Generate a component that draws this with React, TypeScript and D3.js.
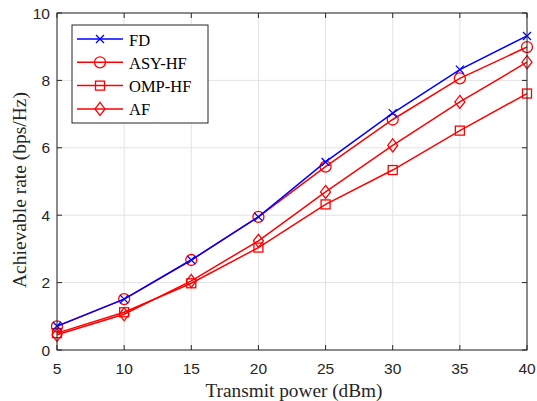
import React from "react";
import * as d3 from "d3";

const powers = [5, 10, 15, 20, 25, 30, 35, 40];
const fd = [0.71, 1.51, 2.67, 3.95, 5.58, 7.03, 8.32, 9.32];
const asyHf = [0.70, 1.51, 2.67, 3.95, 5.44, 6.84, 8.06, 8.99];
const ompHf = [0.50, 1.12, 1.98, 3.04, 4.32, 5.34, 6.51, 7.61];
const af = [0.45, 1.06, 2.05, 3.24, 4.69, 6.07, 7.36, 8.54];
const xTicks = [5, 10, 15, 20, 25, 30, 35, 40];
const yTicks = [0, 2, 4, 6, 8, 10];

const series = [
  { name: "FD", values: fd, color: "#0000ff", marker: "x" },
  { name: "ASY-HF", values: asyHf, color: "#ff0000", marker: "o" },
  { name: "OMP-HF", values: ompHf, color: "#ff0000", marker: "s" },
  { name: "AF", values: af, color: "#ff0000", marker: "d" },
];

function Marker({ type, x, y, color }: { type: string; x: number; y: number; color: string }) {
  if (type === "x") {
    const r = 4;
    return (
      <path d={`M${x - r},${y - r}L${x + r},${y + r}M${x - r},${y + r}L${x + r},${y - r}`} stroke={color} strokeWidth={1.3} fill="none" />
    );
  }
  if (type === "o") return <circle cx={x} cy={y} r={5.5} stroke={color} strokeWidth={1.3} fill="none" />;
  if (type === "s") return <rect x={x - 4.5} y={y - 4.5} width={9} height={9} stroke={color} strokeWidth={1.3} fill="none" />;
  const r = 6.5, w = 5;
  return <path d={`M${x},${y - r}L${x + w},${y}L${x},${y + r}L${x - w},${y}Z`} stroke={color} strokeWidth={1.3} fill="none" />;
}

export default function App() {
  const W = 537, H = 401;
  const left = 57, right = 527, top = 13, bottom = 350;
  const x = d3.scaleLinear().domain([5, 40]).range([left, right]);
  const y = d3.scaleLinear().domain([0, 10]).range([bottom, top]);
  const line = d3.line<number>().x((_, i) => x(powers[i])).y((d) => y(d));
  const serif = "'Liberation Serif', 'Times New Roman', serif";
  const sans = "'Liberation Sans', Arial, sans-serif";
  const drawOrder = [series[1], series[2], series[3], series[0]];
  return (
    <svg width={W} height={H} style={{ position: "absolute", left: 0, top: 0, background: "#fff" }}>
      <rect x={0} y={0} width={W} height={H} fill="#fff" />
      {xTicks.map((t) => (
        <line key={"gx" + t} x1={x(t)} x2={x(t)} y1={top} y2={bottom} stroke="#e3e3e3" strokeWidth={1} />
      ))}
      {yTicks.map((t) => (
        <line key={"gy" + t} x1={left} x2={right} y1={y(t)} y2={y(t)} stroke="#e3e3e3" strokeWidth={1} />
      ))}
      {drawOrder.map((s) => (
        <g key={s.name}>
          <path d={line(s.values) || ""} stroke={s.color} strokeWidth={1.5} fill="none" />
          {s.values.map((v, i) => (
            <Marker key={i} type={s.marker} x={x(powers[i])} y={y(v)} color={s.color} />
          ))}
        </g>
      ))}
      <rect x={left} y={top} width={right - left} height={bottom - top} fill="none" stroke="#262626" strokeWidth={1} />
      {xTicks.map((t) => (
        <g key={"tx" + t}>
          <line x1={x(t)} x2={x(t)} y1={bottom} y2={bottom - 5} stroke="#262626" />
          <line x1={x(t)} x2={x(t)} y1={top} y2={top + 5} stroke="#262626" />
          <text x={x(t)} y={bottom + 24} textAnchor="middle" fontFamily={sans} fontSize={15.5} fill="#262626">{t}</text>
        </g>
      ))}
      {yTicks.map((t) => (
        <g key={"ty" + t}>
          <line x1={left} x2={left + 5} y1={y(t)} y2={y(t)} stroke="#262626" />
          <line x1={right} x2={right - 5} y1={y(t)} y2={y(t)} stroke="#262626" />
          <text x={left - 7} y={y(t) + 5.5} textAnchor="end" fontFamily={sans} fontSize={15.5} fill="#262626">{t}</text>
        </g>
      ))}
      <text x={294} y={397} textAnchor="middle" fontFamily={serif} fontSize={19.3} fill="#262626">Transmit power (dBm)</text>
      <text transform={`translate(26,190) rotate(-90)`} textAnchor="middle" fontFamily={serif} fontSize={19.5} fill="#262626">Achievable rate (bps/Hz)</text>
      <g>
        <rect x={72} y={25} width={136} height={98} fill="#fff" stroke="#262626" strokeWidth={1} />
        {series.map((s, i) => {
          const ly = 39 + i * 23.3;
          return (
            <g key={"lg" + s.name}>
              <line x1={77} x2={123} y1={ly} y2={ly} stroke={s.color} strokeWidth={1.5} />
              <Marker type={s.marker} x={100} y={ly} color={s.color} />
              <text x={129} y={ly + 6.5} fontFamily={serif} fontSize={16.5} fill="#000">{s.name}</text>
            </g>
          );
        })}
      </g>
    </svg>
  );
}
